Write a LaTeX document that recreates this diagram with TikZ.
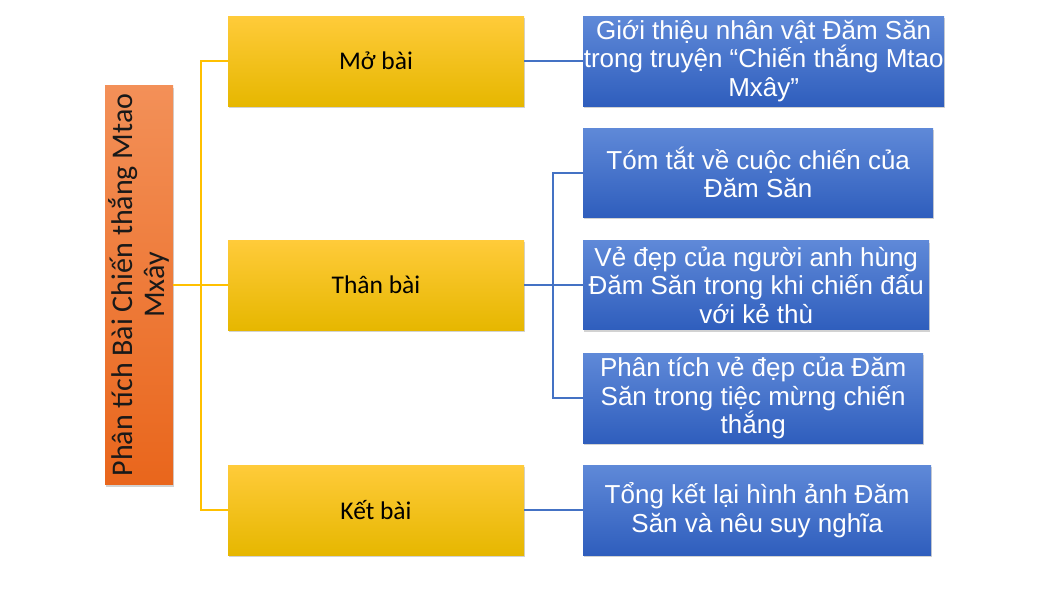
\documentclass[tikz,border=0pt]{standalone}
\usepackage{fontspec}
\setmainfont{Liberation Sans}
\newfontfamily\calfont{Carlito}
\usetikzlibrary{shadows}
\definecolor{rootTop}{HTML}{F39058}
\definecolor{rootBot}{HTML}{E9661C}
\definecolor{partTop}{HTML}{FFCB3A}
\definecolor{partMid}{HTML}{FFC000}
\definecolor{partBot}{HTML}{E6B700}
\definecolor{itemTop}{HTML}{5F89D8}
\definecolor{itemBot}{HTML}{2F5EBD}
\definecolor{ylink}{HTML}{FFC000}
\definecolor{blink}{HTML}{4472C4}
\tikzset{
	boxshadow/.style={drop shadow={shadow xshift=1pt, shadow yshift=-2pt, opacity=0.25, fill=black!70}},
	rootbox/.style={boxshadow, top color=rootTop, bottom color=rootBot, inner sep=0pt,
		minimum width=68pt, minimum height=399pt, text=black!90},
	partbox/.style={boxshadow, top color=partTop, middle color=partMid, bottom color=partBot, inner sep=0pt,
		minimum width=296pt, minimum height=90pt, font=\calfont\fontsize{25.5}{30}\selectfont},
	itembox/.style={boxshadow, top color=itemTop, bottom color=itemBot, inner sep=0pt, anchor=west,
		align=center, text=white, font=\fontsize{26}{28.5}\selectfont},
	ywire/.style={draw=ylink, line width=1.5pt},
	bwire/.style={draw=blink, line width=2pt}
}
\begin{document}
\begin{tikzpicture}[x=1pt, y=-1pt]
		%%%%% START %%%%%
		\useasboundingbox (0, 0) rectangle (1054, 595);
		
		\node[rootbox] (root) at (139, 285) {\rotatebox{90}{\parbox{395pt}{\centering\calfont\fontsize{30}{32}\selectfont
			Phân tích Bài Chiến thắng Mtao\\Mxây}}};
		
		\node[partbox] (mo) at (376, 61) {Mở bài};
		\node[partbox] (than) at (376, 285) {Thân bài};
		\node[partbox] (ket) at (376, 510) {Kết bài};
		
		\node[itembox, minimum width=361pt, minimum height=90pt] (gioithieu) at (583, 61)
			{Giới thiệu nhân vật Đăm Săn\\trong truyện “Chiến thắng Mtao\\Mxây”};
		\node[itembox, minimum width=350pt, minimum height=89pt] (tomtat) at (583, 172.5)
			{Tóm tắt về cuộc chiến của\\Đăm Săn};
		\node[itembox, minimum width=346pt, minimum height=89pt] (vedep) at (583, 285)
			{Vẻ đẹp của người anh hùng\\Đăm Săn trong khi chiến đấu\\với kẻ thù};
		\node[itembox, minimum width=340pt, minimum height=90pt] (phantich) at (583, 398)
			{Phân tích vẻ đẹp của Đăm\\Săn trong tiệc mừng chiến\\thắng};
		\node[itembox, minimum width=348pt, minimum height=90pt] (tongket) at (583, 510)
			{Tổng kết lại hình ảnh Đăm\\Săn và nêu suy nghĩa};
		
		\coordinate (yjoin) at (201, 285);
		\coordinate (bjoin) at (553, 285);
		
		\draw[ywire] (root.east) -- (than.west);
		\draw[ywire] (mo.west) -| (yjoin) |- (ket.west);
		
		\draw[bwire] (mo.east) -- (gioithieu.west);
		\draw[bwire, line width=2.5pt] (than.east) -- (vedep.west);
		\draw[bwire] (tomtat.west) -| (bjoin) |- (phantich.west);
		\draw[bwire] (ket.east) -- (tongket.west);
		
		%%%%% END %%%%%
	\end{tikzpicture}
\end{document}
